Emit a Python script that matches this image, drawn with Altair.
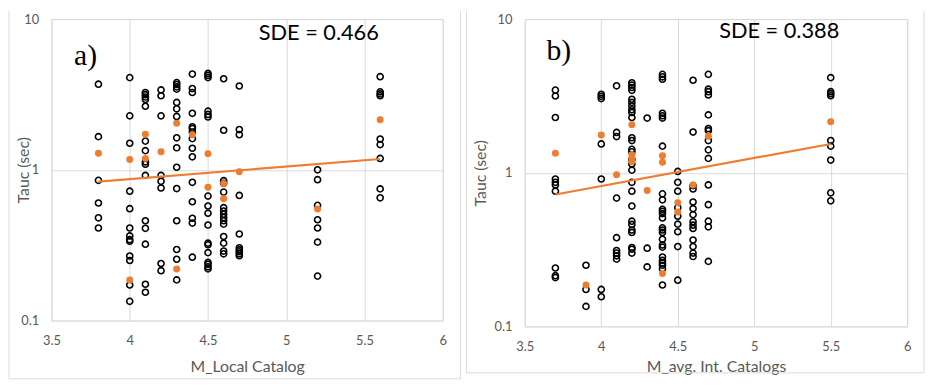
import altair as alt
import pandas as pd

# ---------------- data ----------------
# Panel a) : M_Local Catalog
a_mags = [3.8, 4.0, 4.1, 4.2, 4.3, 4.4, 4.5, 4.6, 4.7, 5.2, 5.6]
a_black = [
    [3.70, 1.66, 0.851, 0.602, 0.480, 0.411],
    [4.09, 2.28, 1.50, 0.721, 0.552, 0.411, 0.364, 0.344, 0.336, 0.268, 0.250, 0.172, 0.134],
    [3.26, 3.15, 3.04, 2.93, 2.64, 1.55, 1.34, 1.13, 1.09, 0.918, 0.459, 0.409, 0.321, 0.174, 0.154],
    [3.39, 3.10, 2.28, 0.918, 0.839, 0.758, 0.239, 0.214],
    [3.79, 3.68, 3.55, 3.43, 2.80, 2.54, 2.26, 1.63, 1.40, 1.04, 0.751, 0.459, 0.296, 0.255, 0.186],
    [4.32, 3.46, 3.26, 2.37, 1.93, 1.88, 1.78, 1.61, 1.39, 1.22, 0.826, 0.614, 0.477, 0.443, 0.263],
    [4.36, 4.23, 4.09, 2.45, 2.33, 2.24, 0.669, 0.575, 0.515, 0.430, 0.326, 0.318, 0.282, 0.243, 0.236, 0.227, 0.220],
    [4.02, 1.83, 0.847, 0.814, 0.711, 0.561, 0.533, 0.507, 0.482, 0.459, 0.436, 0.361, 0.326, 0.289, 0.277],
    [3.60, 1.85, 1.71, 0.676, 0.375, 0.304, 0.294, 0.286, 0.277, 0.269],
    [1.00, 0.860, 0.581, 0.466, 0.411, 0.331, 0.197],
    [4.15, 3.29, 3.19, 3.10, 1.60, 1.47, 1.19, 0.747, 0.652],
]
a_orange_mag = [3.8, 4.0, 4.0, 4.1, 4.1, 4.2, 4.3, 4.3, 4.4, 4.5, 4.5, 4.6, 4.6, 4.7, 5.2, 5.6]
a_orange_tau = [1.29, 1.17, 0.186, 1.72, 1.19, 1.32, 2.04, 0.220, 1.71, 1.28, 0.766, 0.810, 0.642, 0.970, 0.550, 2.15]
a_trend_mag = [3.8, 5.6]
a_trend_tau = [0.834, 1.18]

# Panel b) : M_avg. Int. Catalogs
b_mags = [3.7, 3.9, 4.0, 4.1, 4.2, 4.3, 4.4, 4.5, 4.6, 4.7, 5.5]
b_black = [
    [3.45, 3.16, 2.29, 0.911, 0.867, 0.833, 0.759, 0.240, 0.214, 0.208],
    [0.250, 0.174, 0.135],
    [3.24, 3.14, 3.04, 1.54, 0.911, 0.174, 0.156],
    [3.68, 1.83, 1.72, 0.684, 0.378, 0.312, 0.300, 0.288, 0.274],
    [3.85, 3.72, 3.59, 3.44, 3.01, 2.87, 2.72, 2.57, 2.47, 2.29, 1.69, 1.62, 1.42, 1.37, 1.22, 1.14,
     1.04, 0.867, 0.759, 0.607, 0.484, 0.461, 0.424, 0.409, 0.326, 0.318, 0.300],
    [2.27, 0.323, 0.244],
    [4.37, 4.21, 4.06, 2.44, 2.35, 2.27, 1.49, 0.729, 0.667, 0.578, 0.561, 0.542, 0.508, 0.438, 0.424,
     0.409, 0.369, 0.339, 0.328, 0.283, 0.269, 0.259, 0.250, 0.237, 0.186],
    [1.02, 0.867, 0.759, 0.593, 0.521, 0.463, 0.413, 0.331, 0.200],
    [4.00, 1.84, 0.825, 0.785, 0.645, 0.584, 0.534, 0.480, 0.456, 0.434, 0.365, 0.331, 0.300, 0.285],
    [4.37, 3.50, 3.37, 3.21, 2.38, 1.94, 1.88, 1.62, 1.41, 1.24, 0.833, 0.620, 0.484, 0.445, 0.265],
    [4.16, 3.37, 3.27, 3.17, 1.62, 1.49, 1.21, 0.740, 0.657],
]
b_orange_mag = [3.7, 3.9, 4.0, 4.1, 4.2, 4.2, 4.2, 4.2, 4.3, 4.4, 4.4, 4.4, 4.5, 4.5, 4.6, 4.7, 5.5]
b_orange_tau = [1.34, 0.186, 1.76, 0.971, 2.05, 1.31, 1.24, 1.18, 0.766, 1.29, 1.17, 0.221, 0.638, 0.556, 0.833, 1.73, 2.15]
b_trend_mag = [3.7, 5.5]
b_trend_tau = [0.722, 1.54]

x_ticks = [3.5, 4, 4.5, 5, 5.5, 6]
y_ticks = [0.1, 1, 10]

ORANGE = "#ED7D31"
GRID = "#D9D9D9"
LABEL = "#595959"
FONT = "Lato"


def panel(mags, black, o_mag, o_tau, t_mag, t_tau, xtitle, letter, sde,
          w, h, ytitle_x, xtitle_y, frame_l, frame_r, frame_b,
          letter_pos, sde_pos):
    black_df = pd.DataFrame(
        [{"M": m, "Tauc": v} for m, vals in zip(mags, black) for v in vals]
    )
    orange_df = pd.DataFrame({"M": o_mag, "Tauc": o_tau})
    trend_df = pd.DataFrame({"M": t_mag, "Tauc": t_tau})

    xs = alt.Scale(domain=[3.5, 6], nice=False, zero=False)
    ys = alt.Scale(type="log", domain=[0.1, 10], nice=False)
    xax = alt.Axis(values=x_ticks, format="~g", grid=True, gridColor=GRID, domain=False,
                   ticks=False, labelFlush=False, labelPadding=14, labelFontSize=13,
                   labelColor=LABEL, labelFont=FONT, title=xtitle, titleFont=FONT,
                   titleFontSize=16, titleFontWeight="normal", titleColor=LABEL,
                   titleY=xtitle_y, titleBaseline="middle")
    yax = alt.Axis(values=y_ticks, format="~g", grid=True, gridColor=GRID, domain=False,
                   ticks=False, labelFlush=False, labelPadding=13, labelFontSize=13,
                   labelColor=LABEL, labelFont=FONT, title="Tauc (sec)", titleFont=FONT,
                   titleFontSize=16, titleFontWeight="normal", titleColor=LABEL,
                   titleX=ytitle_x, titleY=h / 2, titleBaseline="middle",
                   titleAlign="center", titleAngle=270)

    pts = alt.Chart(black_df).mark_point(
        shape="circle", filled=False, stroke="black", strokeWidth=1.6, size=38, opacity=1
    ).encode(x=alt.X("M:Q", scale=xs, axis=xax), y=alt.Y("Tauc:Q", scale=ys, axis=yax))
    org = alt.Chart(orange_df).mark_circle(color=ORANGE, size=50, opacity=1).encode(
        x=alt.X("M:Q", scale=xs), y=alt.Y("Tauc:Q", scale=ys))
    trend = alt.Chart(trend_df).mark_line(color=ORANGE, strokeWidth=2.2).encode(
        x=alt.X("M:Q", scale=xs), y=alt.Y("Tauc:Q", scale=ys))

    one = alt.Data(values=[{}])
    t_letter = alt.Chart(one).mark_text(
        text=letter, font="Liberation Serif", fontSize=30, color="black",
        align="center", baseline="middle"
    ).encode(x=alt.value(letter_pos[0]), y=alt.value(letter_pos[1]))
    t_sde = alt.Chart(one).mark_text(
        text=sde, font=FONT, fontSize=22, color="black", align="center", baseline="middle"
    ).encode(x=alt.value(sde_pos[0]), y=alt.value(sde_pos[1]))

    frame_kw = dict(color=GRID, strokeWidth=1)
    fl = alt.Chart(one).mark_rule(**frame_kw).encode(
        x=alt.value(frame_l), y=alt.value(-8), y2=alt.value(frame_b))
    fr = alt.Chart(one).mark_rule(**frame_kw).encode(
        x=alt.value(frame_r), y=alt.value(-8), y2=alt.value(frame_b))
    fb = alt.Chart(one).mark_rule(**frame_kw).encode(
        x=alt.value(frame_l), x2=alt.value(frame_r), y=alt.value(frame_b))

    return alt.layer(fl, fr, fb, pts, org, trend, t_letter, t_sde).properties(width=w, height=h)


pa = panel(a_mags, a_black, a_orange_mag, a_orange_tau, a_trend_mag, a_trend_tau,
           "M_Local Catalog", "a)", "SDE = 0.466",
           396, 305, -28.3, 47, -43, 414, 364, (34.5, 37), (270.5, 14))
pb = panel(b_mags, b_black, b_orange_mag, b_orange_tau, b_trend_mag, b_trend_tau,
           "M_avg. Int. Catalogs", "b)", "SDE = 0.388",
           387, 311, -45, 41, -59, 404, 358, (34.5, 32), (257.5, 12))

chart = alt.hconcat(pa, pb, spacing=4).properties(
    padding={"left": 0, "top": 0, "right": 0, "bottom": 0}
).configure_view(stroke=GRID, strokeWidth=1).configure(background="white")

chart.save("out.html", embed_options={"renderer": "svg", "actions": False})
